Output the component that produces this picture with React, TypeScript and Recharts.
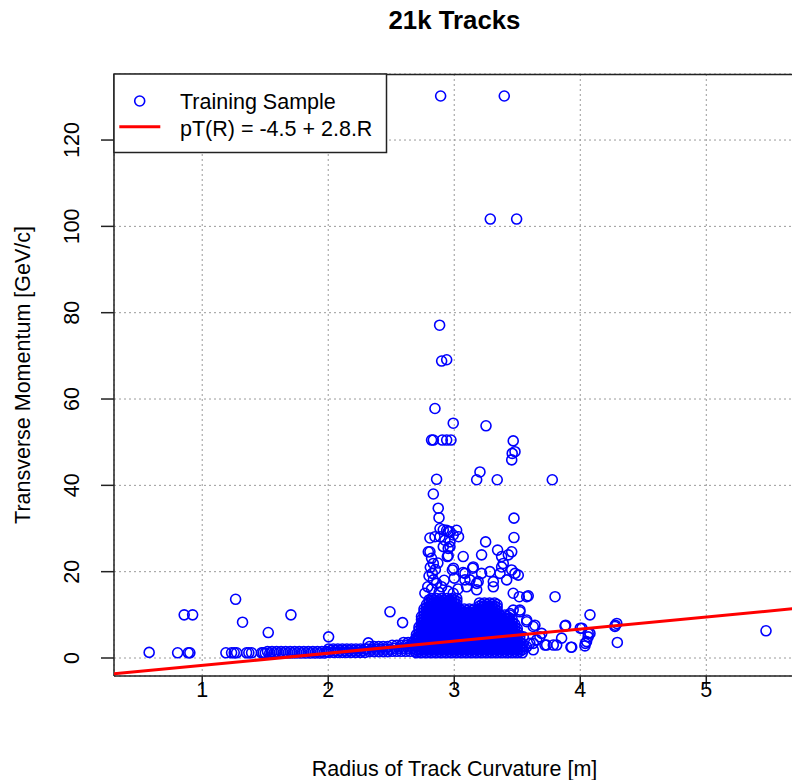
import React from 'react';
import { ScatterChart, Scatter, XAxis, YAxis, CartesianGrid, ReferenceLine } from 'recharts';

const FONT = '"Liberation Sans", Arial, Helvetica, sans-serif';

const chartTitle = '21k Tracks';
const xTitle = 'Radius of Track Curvature [m]';
const yTitle = 'Transverse Momentum [GeV/c]';
const legendLabels = ['Training Sample', 'pT(R) = -4.5 + 2.8.R'];

const xTicks = [1, 2, 3, 4, 5];
const yTicks = [0, 20, 40, 60, 80, 100, 120];
const xDomain: [number, number] = [0.3, 5.704];
const yDomain: [number, number] = [-4.17, 135.3];

const fitIntercept = -4.5;
const fitSlope = 2.8;

// isolated / sparse tracks [R, pT]
const outlierPoints: [number, number][] = [
  [0.579, 1.3], [0.805, 1.2], [0.889, 1.2], [0.902, 1.2], [0.857, 10.0], [0.924, 10.0],
  [1.188, 1.2], [1.233, 1.2], [1.254, 1.2], [1.273, 1.2], [1.352, 1.2], [1.37, 1.2], [1.392, 1.2], [1.471, 1.2], [1.484, 1.2],
  [1.265, 13.6], [1.32, 8.3], [1.524, 5.9], [1.704, 10.0], [2.003, 4.9], [2.318, 3.5], [2.49, 10.7], [2.59, 8.2],
  [2.892, 130.2], [3.397, 130.2], [3.286, 101.7], [3.495, 101.7],
  [2.884, 77.1], [2.9, 68.8], [2.94, 69.1],
  [2.847, 57.8], [2.992, 54.4], [3.252, 53.8],
  [2.82, 50.5], [2.834, 50.5], [2.905, 50.5], [2.94, 50.5], [2.974, 50.5],
  [3.468, 50.3], [3.482, 47.8], [3.46, 47.4], [3.456, 45.9],
  [3.204, 43.1], [3.178, 41.3], [3.341, 41.3], [3.778, 41.3], [2.86, 41.4],
  [2.834, 38.0], [2.873, 34.7], [2.879, 32.5], [3.474, 32.4],
  [2.887, 30.0], [2.913, 29.7], [2.94, 29.6], [2.952, 29.3], [2.966, 29.3], [2.992, 28.5], [3.019, 29.6], [3.034, 28.1],
  [2.887, 28.1], [2.847, 28.1], [2.807, 27.8], [2.926, 27.3], [2.966, 26.9], [2.913, 25.8], [2.952, 25.4], [2.966, 25.8],
  [3.474, 27.9], [3.249, 26.9],
  [2.794, 24.6], [2.807, 24.6], [2.82, 23.1], [2.834, 21.9], [2.945, 23.5], [2.952, 23.7], [3.071, 23.5], [3.217, 23.9],
  [3.344, 25.0], [3.376, 23.5], [3.429, 23.9], [3.456, 24.6], [3.389, 21.9],
  [2.826, 19.6], [2.834, 18.1], [2.86, 17.3], [2.767, 15.0], [2.79, 16.5], [2.8, 19.0], [2.81, 21.0], [2.85, 20.5],
  [2.87, 22.0], [2.82, 16.0], [2.88, 15.2], [2.9, 16.5], [2.92, 18.0], [2.95, 15.5], [2.992, 15.0], [3.0, 18.5], [3.03, 16.0],
  [2.985, 20.4], [2.994, 20.8], [3.07, 19.8], [3.085, 19.6], [3.085, 18.1], [3.098, 16.5], [3.125, 18.1], [3.146, 20.8],
  [3.151, 21.1], [3.178, 17.3], [3.178, 15.8], [3.19, 17.7], [3.217, 19.6], [3.283, 20.0], [3.31, 16.5], [3.31, 17.7],
  [3.363, 19.6], [3.376, 21.1], [3.416, 18.1], [3.456, 20.4], [3.482, 19.6], [3.508, 19.2], [3.468, 15.0],
  [3.516, 14.2], [3.575, 14.2], [3.587, 14.4], [3.8, 14.2], [3.468, 11.1], [3.521, 11.1], [3.521, 10.7], [3.442, 10.3],
  [3.575, 8.8], [3.575, 8.4], [3.627, 7.3], [3.64, 7.6], [3.694, 5.7],
  [3.879, 7.4], [3.884, 7.6], [4.0, 6.9], [4.013, 6.9], [4.077, 10.0], [4.063, 5.7], [4.077, 5.7], [4.063, 4.9],
  [4.05, 3.8], [4.04, 3.4], [4.037, 2.8], [3.926, 2.5], [3.932, 2.5], [3.786, 3.0], [3.72, 3.0], [3.733, 3.0],
  [3.813, 3.0], [3.852, 4.6], [3.627, 3.4], [3.6, 3.4], [3.575, 2.6], [3.654, 4.2], [3.68, 4.9], [3.548, 4.9],
  [3.627, 1.9], [4.278, 7.6], [4.29, 8.0], [4.275, 7.3], [4.294, 3.6], [5.474, 6.3],
];

// the low-pT band of tracks between R = 1.5 and 2.7 [R, pT values]
const bandColumns: [number, number[]][] = [
  [1.500, [1.15]], [1.518, [1.5]], [1.536, [1.15]], [1.554, [1.5]], [1.572, [1.15]], [1.590, [1.5]],
  [1.608, [1.15]], [1.626, [1.5]], [1.644, [1.15]], [1.662, [1.5]], [1.680, [1.15]], [1.698, [1.5]],
  [1.716, [1.15]], [1.734, [1.5]], [1.752, [1.15]], [1.770, [1.5]], [1.788, [1.15]], [1.806, [1.5]],
  [1.824, [1.15]], [1.842, [1.5]], [1.860, [1.15]], [1.878, [1.5]], [1.896, [1.15]], [1.914, [1.5]],
  [1.932, [1.15]], [1.950, [1.5]], [1.968, [1.15]], [1.986, [1.5]],
  [2.004, [1.3, 2.1]], [2.022, [1.75]], [2.040, [1.3, 2.1]], [2.058, [1.75]], [2.076, [1.3, 2.1]], [2.094, [1.75]],
  [2.112, [1.3, 2.1]], [2.130, [1.75]], [2.148, [1.3, 2.1]], [2.166, [1.75]], [2.184, [1.3, 2.1]], [2.202, [1.75]],
  [2.220, [1.3, 2.1]], [2.238, [1.75]], [2.256, [1.3, 2.1]], [2.274, [1.75]], [2.292, [1.3, 2.1]],
  [2.310, [2.05]], [2.328, [1.45, 2.65]], [2.346, [2.05]], [2.364, [1.45, 2.65]], [2.382, [2.05]], [2.400, [1.45, 2.65]],
  [2.418, [2.05]], [2.436, [1.45, 2.65]], [2.454, [2.05]], [2.472, [1.45, 2.65]], [2.490, [2.05]],
  [2.508, [1.55, 2.95]], [2.526, [2.25]], [2.544, [1.55, 2.95]], [2.562, [2.25]], [2.580, [1.55, 2.95]],
  [2.598, [2.25, 3.6]], [2.616, [1.55, 2.95]], [2.634, [2.25, 3.6]], [2.652, [1.55, 2.95]], [2.670, [2.25, 3.6]],
  [2.688, [1.55, 2.95, 4.2]],
];

// the dense core of tracks between R = 2.7 and 3.55 [R, pT values]
const blobColumns: [number, number[]][] = [
  [2.70, [1.2, 1.9, 2.6, 3.3, 4.0, 4.7, 5.4]],
  [2.72, [1.55, 2.25, 2.95, 3.65, 4.35, 5.05, 5.75, 6.45, 7.15]],
  [2.74, [1.2, 1.9, 2.6, 3.3, 4.0, 4.7, 5.4, 6.1, 6.8, 7.5, 8.2, 8.9, 9.6]],
  [2.76, [1.55, 2.25, 2.95, 3.65, 4.35, 5.05, 5.75, 6.45, 7.15, 7.85, 8.55, 9.25, 9.95, 10.65, 11.35]],
  [2.78, [1.2, 1.9, 2.6, 3.3, 4.0, 4.7, 5.4, 6.1, 6.8, 7.5, 8.2, 8.9, 9.6, 10.3, 11.0, 11.7, 12.4]],
  [2.80, [1.55, 2.25, 2.95, 3.65, 4.35, 5.05, 5.75, 6.45, 7.15, 7.85, 8.55, 9.25, 9.95, 10.65, 11.35, 12.05, 12.75, 13.45]],
  [2.82, [1.2, 1.9, 2.6, 3.3, 4.0, 4.7, 5.4, 6.1, 6.8, 7.5, 8.2, 8.9, 9.6, 10.3, 11.0, 11.7, 12.4, 13.1, 13.8]],
  [2.84, [1.55, 2.25, 2.95, 3.65, 4.35, 5.05, 5.75, 6.45, 7.15, 7.85, 8.55, 9.25, 9.95, 10.65, 11.35, 12.05, 12.75, 13.45]],
  [2.86, [1.2, 1.9, 2.6, 3.3, 4.0, 4.7, 5.4, 6.1, 6.8, 7.5, 8.2, 8.9, 9.6, 10.3, 11.0, 11.7, 12.4, 13.1, 13.8]],
  [2.88, [1.55, 2.25, 2.95, 3.65, 4.35, 5.05, 5.75, 6.45, 7.15, 7.85, 8.55, 9.25, 9.95, 10.65, 11.35, 12.05, 12.75, 13.45]],
  [2.90, [1.2, 1.9, 2.6, 3.3, 4.0, 4.7, 5.4, 6.1, 6.8, 7.5, 8.2, 8.9, 9.6, 10.3, 11.0, 11.7, 12.4, 13.1, 13.8]],
  [2.92, [1.55, 2.25, 2.95, 3.65, 4.35, 5.05, 5.75, 6.45, 7.15, 7.85, 8.55, 9.25, 9.95, 10.65, 11.35, 12.05, 12.75, 13.45]],
  [2.94, [1.2, 1.9, 2.6, 3.3, 4.0, 4.7, 5.4, 6.1, 6.8, 7.5, 8.2, 8.9, 9.6, 10.3, 11.0, 11.7, 12.4, 13.1, 13.8]],
  [2.96, [1.55, 2.25, 2.95, 3.65, 4.35, 5.05, 5.75, 6.45, 7.15, 7.85, 8.55, 9.25, 9.95, 10.65, 11.35, 12.05, 12.75, 13.45]],
  [2.98, [1.2, 1.9, 2.6, 3.3, 4.0, 4.7, 5.4, 6.1, 6.8, 7.5, 8.2, 8.9, 9.6, 10.3, 11.0, 11.7, 12.4, 13.1, 13.8]],
  [3.00, [1.55, 2.25, 2.95, 3.65, 4.35, 5.05, 5.75, 6.45, 7.15, 7.85, 8.55, 9.25, 9.95, 10.65, 11.35, 12.05, 12.75, 13.45]],
  [3.02, [1.2, 1.9, 2.6, 3.3, 4.0, 4.7, 5.4, 6.1, 6.8, 7.5, 8.2, 8.9, 9.6, 10.3, 11.0, 11.7, 12.4, 13.1, 13.8]],
  [3.04, [1.55, 2.25, 2.95, 3.65, 4.35, 5.05, 5.75, 6.45, 7.15, 7.85, 8.55, 9.25, 9.95, 10.65, 11.35]],
  [3.06, [1.2, 1.9, 2.6, 3.3, 4.0, 4.7, 5.4, 6.1, 6.8, 7.5, 8.2, 8.9, 9.6, 10.3, 11.0]],
  [3.08, [1.55, 2.25, 2.95, 3.65, 4.35, 5.05, 5.75, 6.45, 7.15, 7.85, 8.55, 9.25, 9.95, 10.65, 11.35]],
  [3.10, [1.2, 1.9, 2.6, 3.3, 4.0, 4.7, 5.4, 6.1, 6.8, 7.5, 8.2, 8.9, 9.6, 10.3, 11.0]],
  [3.12, [1.55, 2.25, 2.95, 3.65, 4.35, 5.05, 5.75, 6.45, 7.15, 7.85, 8.55, 9.25, 9.95, 10.65, 11.35]],
  [3.14, [1.2, 1.9, 2.6, 3.3, 4.0, 4.7, 5.4, 6.1, 6.8, 7.5, 8.2, 8.9, 9.6, 10.3, 11.0]],
  [3.16, [1.55, 2.25, 2.95, 3.65, 4.35, 5.05, 5.75, 6.45, 7.15, 7.85, 8.55, 9.25, 9.95, 10.65, 11.35]],
  [3.18, [1.2, 1.9, 2.6, 3.3, 4.0, 4.7, 5.4, 6.1, 6.8, 7.5, 8.2, 8.9, 9.6, 10.3, 11.0]],
  [3.20, [1.55, 2.25, 2.95, 3.65, 4.35, 5.05, 5.75, 6.45, 7.15, 7.85, 8.55, 9.25, 9.95, 10.65, 11.35, 12.05, 12.75]],
  [3.22, [1.2, 1.9, 2.6, 3.3, 4.0, 4.7, 5.4, 6.1, 6.8, 7.5, 8.2, 8.9, 9.6, 10.3, 11.0, 11.7, 12.4]],
  [3.24, [1.55, 2.25, 2.95, 3.65, 4.35, 5.05, 5.75, 6.45, 7.15, 7.85, 8.55, 9.25, 9.95, 10.65, 11.35, 12.05, 12.75]],
  [3.26, [1.2, 1.9, 2.6, 3.3, 4.0, 4.7, 5.4, 6.1, 6.8, 7.5, 8.2, 8.9, 9.6, 10.3, 11.0, 11.7, 12.4]],
  [3.28, [1.55, 2.25, 2.95, 3.65, 4.35, 5.05, 5.75, 6.45, 7.15, 7.85, 8.55, 9.25, 9.95, 10.65, 11.35, 12.05, 12.75]],
  [3.30, [1.2, 1.9, 2.6, 3.3, 4.0, 4.7, 5.4, 6.1, 6.8, 7.5, 8.2, 8.9, 9.6, 10.3, 11.0, 11.7, 12.4]],
  [3.32, [1.55, 2.25, 2.95, 3.65, 4.35, 5.05, 5.75, 6.45, 7.15, 7.85, 8.55, 9.25, 9.95, 10.65, 11.35, 12.05, 12.75]],
  [3.34, [1.2, 1.9, 2.6, 3.3, 4.0, 4.7, 5.4, 6.1, 6.8, 7.5, 8.2, 8.9, 9.6, 10.3, 11.0, 11.7, 12.4]],
  [3.36, [1.55, 2.25, 2.95, 3.65, 4.35, 5.05, 5.75, 6.45, 7.15, 7.85, 8.55, 9.25, 9.95]],
  [3.38, [1.2, 1.9, 2.6, 3.3, 4.0, 4.7, 5.4, 6.1, 6.8, 7.5, 8.2, 8.9, 9.6]],
  [3.40, [1.55, 2.25, 2.95, 3.65, 4.35, 5.05, 5.75, 6.45, 7.15, 7.85, 8.55, 9.25, 9.95]],
  [3.42, [1.2, 1.9, 2.6, 3.3, 4.0, 4.7, 5.4, 6.1, 6.8, 7.5, 8.2, 8.9, 9.6]],
  [3.44, [1.55, 2.25, 2.95, 3.65, 4.35, 5.05, 5.75, 6.45, 7.15, 7.85, 8.55, 9.25, 9.95]],
  [3.46, [1.2, 1.9, 2.6, 3.3, 4.0, 4.7, 5.4, 6.1, 6.8, 7.5, 8.2, 8.9]],
  [3.48, [1.55, 2.25, 2.95, 3.65, 4.35, 5.05, 5.75, 6.45, 7.15, 7.85]],
  [3.50, [1.2, 1.9, 2.6, 3.3, 4.0, 4.7, 5.4, 6.1, 6.8]],
  [3.52, [1.55, 2.25, 2.95, 3.65, 4.35, 5.05]],
  [3.54, [1.2, 1.9, 2.6, 3.3]],
];

const samplePoints = [
  ...outlierPoints.map(([x, y]) => ({ x, y })),
  ...bandColumns.flatMap(([x, ys]) => ys.map((y) => ({ x, y }))),
  ...blobColumns.flatMap(([x, ys]) => ys.map((y) => ({ x, y }))),
];

const fitData = xDomain.map((x) => ({ x, y: fitIntercept + fitSlope * x }));

const BLUE = '#0000ff';
const RED = '#ff0000';
const INK = '#222222';

const Ring = (props: any) => {
  const { cx, cy } = props;
  if (cx == null || cy == null) return <g />;
  return <circle cx={cx} cy={cy} r={5.0} fill="none" stroke={BLUE} strokeWidth={1.6} />;
};

const NoDot = () => <g />;

const XTick = (props: any) => (
  <text x={props.x} y={697} textAnchor="middle" fontFamily={FONT} fontSize={21.5} fill="#000">
    {props.payload.value}
  </text>
);

const YTick = (props: any) => (
  <text
    x={79}
    y={props.y}
    transform={`rotate(-90, 79, ${props.y})`}
    textAnchor="middle"
    fontFamily={FONT}
    fontSize={21.5}
    fill="#000"
  >
    {props.payload.value}
  </text>
);

export default function App() {
  return (
    <div
      style={{
        position: 'fixed',
        left: 0,
        top: 0,
        width: 792,
        height: 780,
        overflow: 'hidden',
        background: '#ffffff',
      }}
    >
      <ScatterChart width={800} height={780} margin={{ top: 74, right: 5, bottom: 0, left: 0 }}>
        <CartesianGrid stroke="#9a9a9a" strokeWidth={1} strokeDasharray="2 3" />
        <XAxis
          type="number"
          dataKey="x"
          domain={xDomain}
          ticks={xTicks}
          interval={0}
          allowDataOverflow
          height={104}
          tickSize={13}
          tickLine={{ stroke: INK, strokeWidth: 1.5 }}
          axisLine={{ stroke: INK, strokeWidth: 1.5 }}
          tick={XTick}
        />
        <YAxis
          type="number"
          dataKey="y"
          domain={yDomain}
          ticks={yTicks}
          interval={0}
          allowDataOverflow
          width={114}
          tickSize={13}
          tickLine={{ stroke: INK, strokeWidth: 1.5 }}
          axisLine={{ stroke: INK, strokeWidth: 1.5 }}
          tick={YTick}
        />
        <Scatter data={samplePoints} shape={Ring} isAnimationActive={false} />
        <Scatter
          data={fitData}
          shape={NoDot}
          line={{ stroke: RED, strokeWidth: 3 }}
          isAnimationActive={false}
        />
        <ReferenceLine y={135.2} stroke={INK} strokeWidth={1.5} />
      </ScatterChart>
      <svg
        width={792}
        height={780}
        style={{ position: 'absolute', left: 0, top: 0, pointerEvents: 'none' }}
      >
        <text x={454.5} y={29} textAnchor="middle" fontFamily={FONT} fontWeight="bold" fontSize={25.8} fill="#000">
          {chartTitle}
        </text>
        <text x={454.5} y={776} textAnchor="middle" fontFamily={FONT} fontSize={21.5} fill="#000">
          {xTitle}
        </text>
        <text
          x={29.5}
          y={375}
          transform="rotate(-90, 29.5, 375)"
          textAnchor="middle"
          fontFamily={FONT}
          fontSize={21.5}
          fill="#000"
        >
          {yTitle}
        </text>
        <rect x={114} y={74} width={272.5} height={78.5} fill="#ffffff" stroke={INK} strokeWidth={1.5} />
        <circle cx={139.7} cy={101} r={5.0} fill="none" stroke={BLUE} strokeWidth={1.6} />
        <line x1={119.3} y1={126.7} x2={160.3} y2={126.7} stroke={RED} strokeWidth={3} />
        <text x={180} y={108.5} fontFamily={FONT} fontSize={21.5} fill="#000">
          {legendLabels[0]}
        </text>
        <text x={180} y={136} fontFamily={FONT} fontSize={21.5} fill="#000">
          {legendLabels[1]}
        </text>
      </svg>
    </div>
  );
}
